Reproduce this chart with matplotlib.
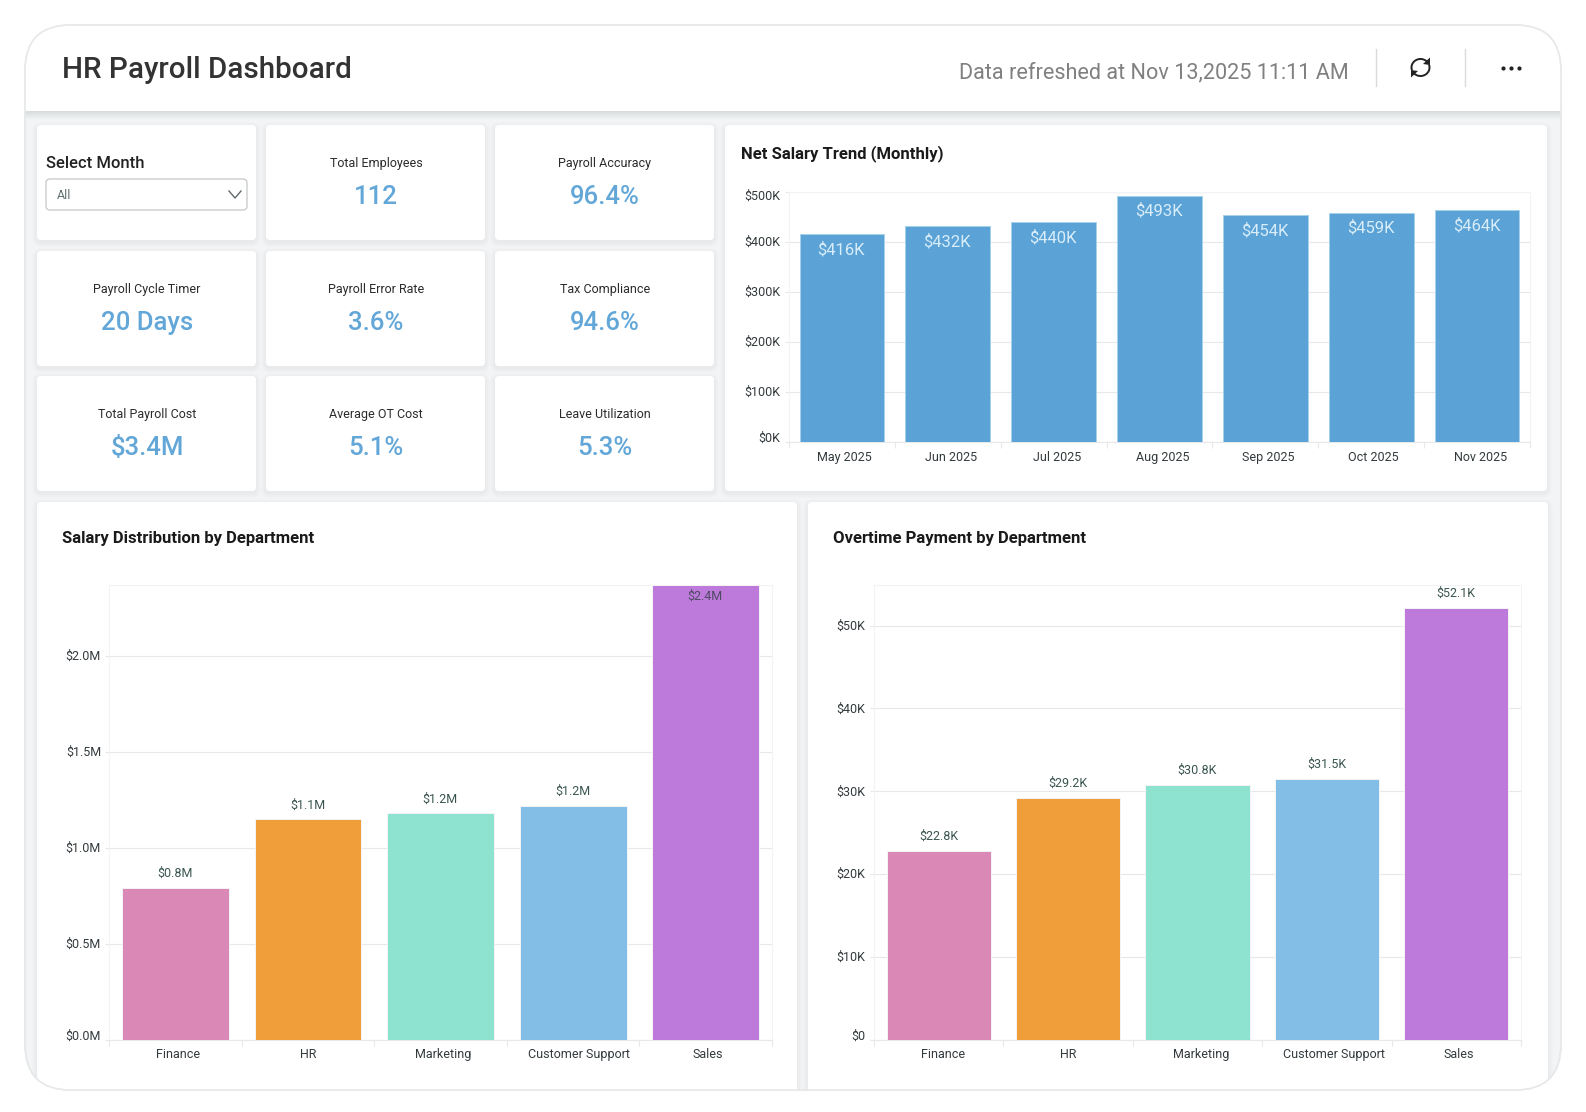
import matplotlib
matplotlib.use("Agg")
import matplotlib.pyplot as plt
import numpy as np
from matplotlib.patches import FancyBboxPatch, Rectangle, Polygon
from matplotlib.transforms import ScaledTranslation

plt.rcParams["font.family"] = ["Roboto", "DejaVu Sans"]

W, H = 1586, 1112

# ── data ──────────────────────────────────────────────
months = ["May 2025", "Jun 2025", "Jul 2025", "Aug 2025", "Sep 2025", "Oct 2025", "Nov 2025"]
net_salary = [416, 432, 440, 493, 454, 459, 464]
trend_ticks = [0, 100, 200, 300, 400, 500]

departments = ["Finance", "HR", "Marketing", "Customer Support", "Sales"]
salary_dist = [0.79, 1.149, 1.18, 1.22, 2.37]
salary_ticks = [0.0, 0.5, 1.0, 1.5, 2.0]
overtime = [22.8, 29.2, 30.8, 31.5, 52.1]
overtime_ticks = [0, 10, 20, 30, 40, 50]
dept_colors = ["#da88b6", "#f09e3a", "#8de3cf", "#82bee6", "#bd7adb"]

kpi_labels = ["Total Employees", "Payroll Accuracy",
              "Payroll Cycle Timer", "Payroll Error Rate", "Tax Compliance",
              "Total Payroll Cost", "Average OT Cost", "Leave Utilization"]
kpi_values = ["112", "96.4%", "20 Days", "3.6%", "94.6%", "$3.4M", "5.1%", "5.3%"]

BLUE = "#5ba3d6"
KPI_BLUE = "#62a7d8"
GRID = "#e6e8ea"
FRAME = "#f2f3f4"
TICK_TXT = "#333a3d"
ICON = "#222222"

fig = plt.figure(figsize=(W / 100, H / 100), dpi=100, facecolor="white")
bg = fig.add_axes([0, 0, 1, 1])
bg.set_xlim(0, W)
bg.set_ylim(H, 0)
bg.axis("off")


def rounded(x0, y0, x1, y1, r, **kw):
    p = FancyBboxPatch((x0, y0), x1 - x0, y1 - y0,
                       boxstyle=f"round,pad=0,rounding_size={r}", **kw)
    bg.add_patch(p)
    return p


def card(x0, y0, x1, y1, clip=None):
    """white panel with a soft shadow"""
    for i in range(5, 0, -1):
        s = rounded(x0 - i, y0 - i + 2, x1 + i, y1 + i + 2, 5 + i,
                    fc="#5a6570", ec="none", alpha=0.012, zorder=2)
        if clip is not None:
            s.set_clip_path(clip)
    c = rounded(x0, y0, x1, y1, 4, fc="white", ec="none", zorder=3)
    if clip is not None:
        c.set_clip_path(clip)
    return c


def px_axes(x0, y0, x1, y1):
    return fig.add_axes([x0 / W, 1 - y1 / H, (x1 - x0) / W, (y1 - y0) / H])


def nudge(label, dx=0, dy=0):
    """shift a tick label by some pixels (dy is up)"""
    label.set_transform(label.get_transform()
                        + ScaledTranslation(dx / 100, dy / 100, fig.dpi_scale_trans))


def bar_chart(rect, cats, vals, ticks, ymax, ytick_fmt, colors, edge, width, label_dx):
    ax = px_axes(*rect)
    pos = np.arange(len(cats))
    ax.bar(pos, vals, width=width, color=colors, edgecolor=edge, linewidth=0.7, zorder=3)
    ax.set_xlim(-0.5, len(cats) - 0.5)
    ax.set_ylim(0, ymax)
    ax.set_yticks(ticks)
    ax.set_yticklabels([ytick_fmt(t) for t in ticks], fontsize=9, color=TICK_TXT)
    ax.yaxis.grid(True, color=GRID, linewidth=0.8, zorder=0)
    ax.set_axisbelow(True)
    ax.set_xticks(np.arange(len(cats) + 1) - 0.5)
    ax.set_xticklabels([])
    ax.set_xticks(pos, minor=True)
    ax.set_xticklabels(cats, minor=True, fontsize=9, color=TICK_TXT)
    ax.tick_params(axis="x", which="major", length=4, width=0.8, color=GRID)
    ax.tick_params(axis="x", which="minor", length=0, pad=6)
    ax.tick_params(axis="y", length=3, width=0.8, color=GRID, pad=3)
    for name, sp in ax.spines.items():
        sp.set_color(GRID if name == "bottom" else FRAME)
        sp.set_linewidth(0.8)
    for lab, dx in zip(ax.get_xticklabels(minor=True), label_dx):
        nudge(lab, dx=dx)
    ylabs = ax.get_yticklabels()
    for lab in ylabs[1:]:
        nudge(lab, dy=1)
    nudge(ylabs[0], dy=5)
    return ax


# ── page background and header ────────────────────────
outer = rounded(25, 25, 1561, 1090, 46, fc="#f3f4f5", ec="#e7e9ea", lw=1.2, zorder=1)

for i in range(8):
    band = Rectangle((25, 111), 1536, 8 - i, fc="#6a7580", ec="none", alpha=0.022, zorder=1.5)
    bg.add_patch(band)
    band.set_clip_path(outer)
header = Rectangle((25, 25), 1536, 86, fc="white", ec="none", zorder=4)
bg.add_patch(header)
header.set_clip_path(outer)

bg.text(62, 70, "HR Payroll Dashboard", fontsize=21.3, fontweight="medium",
        color="#333333", va="center", zorder=5)
bg.text(1349, 72.5, "Data refreshed at Nov 13,2025 11:11 AM", fontsize=15.6, color="#808080",
        ha="right", va="center", zorder=5)
for x in (1375.5, 1465):
    bg.plot([x, x], [49, 86], color="#d9dbdd", lw=1, zorder=5)

# refresh icon: two open arcs with arrow heads
cx, cy = 1420.5, 67.5
for a0, a1 in [(35, 195), (215, 375)]:
    t = np.radians(np.linspace(a0, a1, 40))
    bg.plot(cx + 9 * np.cos(t), cy - 8.5 * np.sin(t), color=ICON, lw=1.4, zorder=5)
bg.add_patch(Polygon([[cx + 9.5, cy - 10], [cx + 9.5, cy - 2.5], [cx + 2.5, cy - 3.5]], fc=ICON, ec="none", zorder=5))
bg.add_patch(Polygon([[cx - 9.5, cy + 10], [cx - 9.5, cy + 2.5], [cx - 2.5, cy + 3.5]], fc=ICON, ec="none", zorder=5))

# overflow menu dots
bg.scatter([1503, 1511, 1519], [68, 68, 68], s=9, color=ICON, linewidths=0, zorder=5)

# ── panels ────────────────────────────────────────────
cols = [(37, 256), (266, 485), (495, 714)]
rows = [(125, 240), (251, 366), (376, 491)]
for r in rows:
    for c in cols:
        card(c[0], r[0], c[1], r[1])
card(725, 125, 1547, 491)
card(37, 502, 797, 1096, clip=outer)
card(808, 502, 1548, 1096, clip=outer)
rounded(25, 25, 1561, 1090, 46, fc="none", ec="#e7e9ea", lw=1.2, zorder=4.5)

# month selector
bg.text(46, 163.5, "Select Month", fontsize=12, fontweight="medium", color="#222222", va="center", zorder=5)
rounded(46, 179, 247, 210, 4, fc="white", ec="#c9cccf", lw=1, zorder=5)
bg.text(57, 195.5, "All", fontsize=9, color="#5d6f70", va="center", zorder=6)
bg.plot([229, 235, 241], [191, 198, 191], color="#60696e", lw=1, zorder=6)

# KPI tiles
slots = [(1, 0), (2, 0), (0, 1), (1, 1), (2, 1), (0, 2), (1, 2), (2, 2)]
for (ci, ri), lab, val in zip(slots, kpi_labels, kpi_values):
    xc = (cols[ci][0] + cols[ci][1]) / 2
    bg.text(xc + 0.5, rows[ri][0] + 38.5, lab, fontsize=9, color="#2b2b2b", ha="center", va="center", zorder=5)
    bg.text(xc + 0.5, rows[ri][0] + 72, val, fontsize=18.5, fontweight="medium", color=KPI_BLUE,
            ha="center", va="center", zorder=5)

# panel titles
for x, y, s in [(741, 153.5, "Net Salary Trend (Monthly)"),
                (62, 538.5, "Salary Distribution by Department"),
                (833, 538.5, "Overtime Payment by Department")]:
    bg.text(x, y, s, fontsize=12, fontweight="bold", color="#1a1a1a", va="center", zorder=5)

# ── charts ────────────────────────────────────────────
ax_trend = bar_chart((789, 192, 1530, 442.3), months, net_salary, trend_ticks, 500,
                     lambda t: f"${t}K", BLUE, "#a6d2ec", 0.8, [2, 3, 3, 3, 3, 2, 3])
nudge(ax_trend.get_yticklabels()[-1], dy=-4)
for i, v in enumerate(net_salary):
    ax_trend.annotate(f"${v}K", (i, v), xytext=(-0.5, -11), textcoords="offset points",
                      ha="center", va="center", fontsize=12, color="#d8edf9", zorder=5)

ax_sal = bar_chart((109.3, 585, 772, 1040), departments, salary_dist, salary_ticks, 2.37,
                   lambda t: f"${t:.1f}M", dept_colors, "#f4f4f6", 0.805, [2, 0, 3, 6, 2])
for i, v in enumerate(salary_dist):
    off, clr = (-8, "#4f4a63") if v >= 2.3 else (10.5, "#3a5550")
    ax_sal.annotate(f"${v:.1f}M", (i, v), xytext=(-0.5, off), textcoords="offset points",
                    ha="center", va="center", fontsize=9, color=clr, zorder=5)

ax_ot = bar_chart((874, 585, 1521, 1040), departments, overtime, overtime_ticks, 54.9,
                  lambda t: f"${t}K" if t else "$0", dept_colors, "#f4f4f6", 0.805, [4, 0, 4, 7, 2])
for i, v in enumerate(overtime):
    ax_ot.annotate(f"${v:.1f}K", (i, v), xytext=(0, 10.5), textcoords="offset points",
                   ha="center", va="center", fontsize=9, color="#3a5550", zorder=5)

fig.savefig("out.png", dpi=100, facecolor="white")
